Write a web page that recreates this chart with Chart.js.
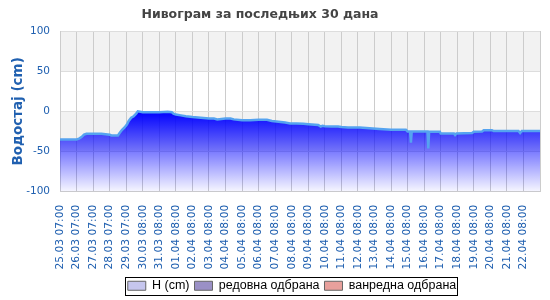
<!DOCTYPE html>
<html>
<head>
<meta charset="utf-8">
<script src="https://cdn.jsdelivr.net/npm/chart.js@4"></script>
<style>
  body { margin: 0; background: #fff; }
  #wrap { width: 550px; height: 300px; }
</style>
</head>
<body>
<div id="wrap"><canvas id="nivogram"></canvas></div>
<script>
// podaci (dani od 25.03 07:00, vodostaj u cm)
const tickLabels = [
  "25.03 07:00", "26.03 07:00", "27.03 07:00", "28.03 07:00", "29.03 07:00",
  "30.03 08:00", "31.03 08:00", "01.04 08:00", "02.04 08:00", "03.04 08:00",
  "04.04 08:00", "05.04 08:00", "06.04 08:00", "07.04 08:00", "08.04 08:00",
  "09.04 08:00", "10.04 08:00", "11.04 08:00", "12.04 08:00", "13.04 08:00",
  "14.04 08:00", "15.04 08:00", "16.04 08:00", "17.04 08:00", "18.04 08:00",
  "19.04 08:00", "20.04 08:00", "21.04 08:00", "22.04 08:00"
];
const vreme = [
  0, 1.0, 1.15, 1.3, 1.45, 1.6, 2.0, 2.5, 3.0, 3.1, 3.5, 3.6, 3.75, 3.9, 4.05,
  4.15, 4.3, 4.45, 4.6, 4.7, 5.0, 5.5, 6.0, 6.5, 6.75, 6.85, 7.0, 7.3, 7.6, 8.0,
  8.5, 9.0, 9.3, 9.5, 10.0, 10.3, 10.5, 11.0, 11.5, 12.0, 12.5, 12.8, 13.2, 13.6,
  13.9, 14.3, 14.7, 15.0, 15.6, 15.75, 15.85, 16.0, 16.4, 16.8, 17.0, 17.4, 18.1,
  18.7, 19.3, 20.0, 20.9, 21.0, 21.15, 21.2, 21.25, 22.2, 22.25, 22.3, 22.95, 23.0,
  23.8, 23.87, 23.95, 24.9, 25.0, 25.5, 25.6, 26.1, 26.2, 27.7, 27.8, 27.9, 29.0
];
const vodostaj = [
  -35, -35, -34, -32, -29, -28, -28, -28, -29, -30, -30, -27, -23, -20, -16,
  -12, -8, -6, -3, 0, -1, -1, -1, -0.5, -1, -3, -4, -5, -6, -7,
  -8, -9, -9, -10, -9, -9, -10, -11, -11, -10.5, -10.5, -12, -13, -14,
  -15, -15, -15.5, -16, -17, -19, -18, -18.5, -19, -19, -19.5, -20, -20,
  -21, -22, -23, -23, -25, -25, -39, -25, -25, -46, -25, -25.5, -27.5,
  -27.5, -29.5, -27.5, -27, -25.5, -25, -23.5, -23.5, -24.5, -24.5, -27, -24.5, -24.5
];
const redovnaOdbrana = [];
const vanrednaOdbrana = [];

const plava = "#2060b0";

const pozadina = {
  id: "pozadina",
  beforeDraw(chart) {
    const { ctx, chartArea, scales } = chart;
    if (!chartArea) return;
    const y = scales.y;
    const pojasevi = [[100, 50, "#f2f2f2"], [50, 0, "#ffffff"], [0, -50, "#f2f2f2"], [-50, -100, "#ffffff"]];
    ctx.save();
    pojasevi.forEach(p => {
      const y1 = y.getPixelForValue(p[0]);
      const y2 = y.getPixelForValue(p[1]);
      ctx.fillStyle = p[2];
      ctx.fillRect(chartArea.left, y1, chartArea.right - chartArea.left, y2 - y1);
    });
    ctx.restore();
  }
};

// pomeranje naslova i legende kao na originalu
const pomeraj = {
  id: "pomeraj",
  afterLayout(chart) {
    chart.titleBlock.left -= 10;
    chart.titleBlock.right -= 10;
    chart.legend.left += 22;
    chart.legend.right += 22;
    chart.legend.top += 4;
    chart.legend.bottom += 4;
  }
};

const okvirLegende = {
  id: "okvirLegende",
  afterDraw(chart) {
    const boxes = chart.legend.legendHitBoxes;
    if (!boxes || !boxes.length) return;
    const ctx = chart.ctx;
    let l = Infinity, t = Infinity, r = -Infinity, b = -Infinity;
    boxes.forEach(h => {
      l = Math.min(l, h.left); t = Math.min(t, h.top);
      r = Math.max(r, h.left + h.width); b = Math.max(b, h.top + h.height);
    });
    ctx.save();
    ctx.strokeStyle = "#000";
    ctx.lineWidth = 1;
    ctx.strokeRect(Math.round(l - 3) + 0.5, Math.round(t - 3) + 0.5, Math.round(r - l + 4), Math.round(b - t + 5));
    ctx.restore();
  }
};

function gradijent(context) {
  const chart = context.chart;
  const { ctx, chartArea, scales } = chart;
  if (!chartArea) return "rgba(0,0,255,0.5)";
  const g = ctx.createLinearGradient(0, scales.y.getPixelForValue(0), 0, scales.y.getPixelForValue(-100));
  g.addColorStop(0, "rgba(0,0,255,1)");
  g.addColorStop(1, "rgba(0,0,255,0.03)");
  return g;
}

new Chart(document.getElementById("nivogram"), {
  type: "line",
  data: {
    datasets: [
      {
        label: "H (cm)",
        data: vreme.map((t, i) => ({ x: t, y: vodostaj[i] })),
        borderColor: "#55a3f0",
        borderWidth: 2.5,
        backgroundColor: gradijent,
        fill: "start",
        pointRadius: 0,
        tension: 0
      },
      {
        label: "редовна одбрана",
        data: redovnaOdbrana,
        borderColor: "#9a90c6",
        backgroundColor: "#9a90c6",
        pointRadius: 0
      },
      {
        label: "ванредна одбрана",
        data: vanrednaOdbrana,
        borderColor: "#e8a09c",
        backgroundColor: "#e8a09c",
        pointRadius: 0
      }
    ]
  },
  options: {
    responsive: true,
    maintainAspectRatio: false,
    animation: false,
    layout: { padding: { left: 0, right: 10, top: 2, bottom: 2 } },
    plugins: {
      title: {
        display: true,
        text: "Нивограм за последњих 30 дана",
        color: "#444",
        font: { family: "DejaVu Sans", size: 12.5, weight: "bold" },
        padding: { top: 5, bottom: 9 }
      },
      legend: {
        position: "bottom",
        labels: {
          color: "#000",
          font: { family: "Liberation Sans", size: 12.5 },
          boxWidth: 18,
          boxHeight: 9,
          padding: 5,
          generateLabels(chart) {
            const boje = ["#c6c6ee", "#9a90c6", "#e8a09c"];
            return chart.data.datasets.map((ds, i) => ({
              text: ds.label,
              fillStyle: boje[i],
              strokeStyle: "#666",
              lineWidth: 1,
              datasetIndex: i,
              fontColor: "#000"
            }));
          }
        }
      },
      tooltip: { enabled: false }
    },
    scales: {
      x: {
        type: "linear",
        min: 0,
        max: 29,
        grid: { color: "#cccccc", drawTicks: false },
        border: { color: "#cccccc" },
        afterFit(scale) {
          scale.paddingLeft = 0;
          scale.paddingRight = 0;
          scale.height -= 12;
        },
        ticks: {
          stepSize: 1,
          autoSkip: false,
          maxRotation: 90,
          minRotation: 90,
          padding: 13,
          color: plava,
          font: { family: "DejaVu Sans", size: 10.7 },
          callback: v => tickLabels[v] || ""
        }
      },
      y: {
        min: -100,
        max: 100,
        grid: { color: "#dddddd", drawTicks: false },
        border: { color: "#cccccc" },
        afterFit(scale) {
          scale.width -= 10;
        },
        ticks: {
          stepSize: 50,
          padding: 10,
          color: plava,
          font: { family: "DejaVu Sans", size: 10.5 }
        },
        title: {
          display: true,
          text: "Водостај (cm)",
          color: plava,
          font: { family: "DejaVu Sans", size: 13.5, weight: "bold" },
          padding: { top: 10, bottom: 0 }
        }
      }
    }
  },
  plugins: [pozadina, pomeraj, okvirLegende]
});
</script>
</body>
</html>
